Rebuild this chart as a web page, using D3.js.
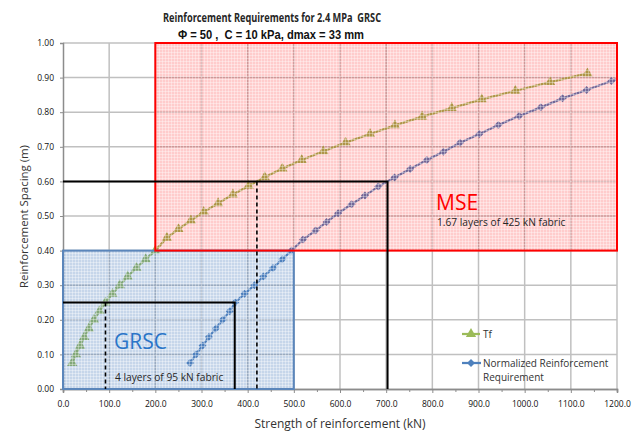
<!DOCTYPE html>
<html>
<head>
<meta charset="utf-8">
<script src="https://cdn.jsdelivr.net/npm/d3@7"></script>
<style>
  body { margin: 0; background: #fff; }
  text { font-family: "Liberation Sans Narrow", "Open Sans", sans-serif; white-space: pre; }
</style>
</head>
<body>
<div id="chart"></div>
<script>
// Tf series (kN vs spacing m)
var tfKN = [20, 28, 37, 46, 56, 67, 79, 92, 107, 123, 140, 159, 179, 200,
  225, 250, 277, 305, 336, 368, 402, 437, 475, 517, 564, 612, 665, 719, 778, 842, 907, 980, 1055, 1136];
var tfSpacing = [0.075, 0.1, 0.125, 0.15, 0.175, 0.2, 0.225, 0.25, 0.275, 0.3, 0.325, 0.35, 0.375, 0.4,
  0.437, 0.462, 0.487, 0.512, 0.537, 0.562, 0.587, 0.612, 0.637, 0.662, 0.687, 0.712, 0.737, 0.762, 0.787, 0.812, 0.837, 0.862, 0.887, 0.912];

// Normalized Reinforcement Requirement
var nrrKN = [275, 288, 302, 316, 331, 346, 361, 373, 393, 415, 434, 455, 475, 495,
  520, 547, 571, 596, 625, 654, 683, 718, 752, 788, 824, 860, 902, 943, 988, 1035, 1082, 1134, 1188, 1240];
var nrrSpacing = [0.075, 0.1, 0.125, 0.15, 0.175, 0.2, 0.225, 0.25, 0.275, 0.3, 0.325, 0.35, 0.375, 0.4,
  0.432, 0.458, 0.483, 0.508, 0.534, 0.559, 0.585, 0.611, 0.636, 0.662, 0.686, 0.712, 0.737, 0.763, 0.789, 0.814, 0.84, 0.864, 0.89, 0.915];

// zones: [kN from, kN to, spacing from, spacing to]
var mseZone = [200, 1200, 0.4, 1.0];
var grscZone = [0, 500, 0, 0.4];

// guide lines
var mseSolid = [[0, 0.6], [703, 0.6], [703, 0]];
var mseDashed = [[420, 0.6], [420, 0]];
var grscSolid = [[0, 0.25], [372, 0.25], [372, 0]];
var grscDashed = [[92, 0.25], [92, 0]];

var W = 635, H = 431;
var margin = { top: 43, right: 18, bottom: 42, left: 63 };
var iw = W - margin.left - margin.right, ih = H - margin.top - margin.bottom;

var svg = d3.select("#chart").append("svg").attr("width", W).attr("height", H);

var defs = svg.append("defs");
defs.append("clipPath").attr("id", "plotclip")
  .append("rect").attr("width", iw).attr("height", ih);
var pat = defs.append("pattern").attr("id", "fine")
  .attr("width", 3).attr("height", 3).attr("patternUnits", "userSpaceOnUse");
pat.append("path").attr("d", "M0 0.5H3M0.5 0V3")
  .attr("stroke", "#ffffff").attr("stroke-opacity", 0.35).attr("stroke-width", 1);

var g = svg.append("g").attr("transform", "translate(" + margin.left + "," + margin.top + ")");

var x = d3.scaleLinear().domain([0, 1200]).range([0, iw]);
var y = d3.scaleLinear().domain([0, 1]).range([ih, 0]);

// gridlines
g.append("g").selectAll("line").data(d3.range(100, 1201, 100)).enter().append("line")
  .attr("x1", function (d) { return x(d); }).attr("x2", function (d) { return x(d); })
  .attr("y1", 0).attr("y2", ih)
  .attr("stroke", "#c0c0c0").attr("stroke-width", 1.5);
g.append("g").selectAll("line").data(d3.range(1, 11).map(function (d) { return d / 10; })).enter().append("line")
  .attr("x1", 0).attr("x2", iw)
  .attr("y1", function (d) { return y(d); }).attr("y2", function (d) { return y(d); })
  .attr("stroke", "#c0c0c0").attr("stroke-width", 1.5);

// axes
g.append("g").attr("transform", "translate(0," + ih + ")")
  .call(d3.axisBottom(x).tickValues(d3.range(0, 1201, 100)).tickFormat(d3.format(".1f")).tickSize(4).tickPadding(8));
g.append("g").attr("transform", "translate(0," + ih + ")")
  .call(d3.axisBottom(x).tickValues(d3.range(50, 1200, 100)).tickFormat("").tickSize(3));
g.append("g")
  .call(d3.axisLeft(y).ticks(10).tickFormat(d3.format(".2f")).tickSize(3).tickPadding(6));
g.selectAll(".domain").attr("stroke", "#8c8c8c").attr("stroke-width", 1.5);
g.selectAll(".tick line").attr("stroke", "#8c8c8c");
g.selectAll(".tick text").attr("font-size", 8.5).attr("fill", "#111")
  .style("font-family", "'Liberation Sans Narrow', 'Open Sans', sans-serif");

// series
var plot = g.append("g").attr("clip-path", "url(#plotclip)");
var line = d3.line().x(function (d) { return x(d[0]); }).y(function (d) { return y(d[1]); });
var tfPts = tfKN.map(function (k, i) { return [k, tfSpacing[i]]; });
var nrrPts = nrrKN.map(function (k, i) { return [k, nrrSpacing[i]]; });

plot.append("path").datum(tfPts).attr("d", line)
  .attr("fill", "none").attr("stroke", "#9bbb59").attr("stroke-width", 2.25);
plot.selectAll(".tri").data(tfPts).enter().append("path")
  .attr("transform", function (d) { return "translate(" + x(d[0]) + "," + y(d[1]) + ")"; })
  .attr("d", d3.symbol().type(d3.symbolTriangle).size(46))
  .attr("fill", "#9bbb59");

plot.append("path").datum(nrrPts).attr("d", line)
  .attr("fill", "none").attr("stroke", "#4f81bd").attr("stroke-width", 2.25);
plot.selectAll(".dia").data(nrrPts).enter().append("path")
  .attr("transform", function (d) { return "translate(" + x(d[0]) + "," + y(d[1]) + ") rotate(45)"; })
  .attr("d", d3.symbol().type(d3.symbolSquare).size(32))
  .attr("fill", "#4f81bd");

// zones
function zone(z, fill, op) {
  var r = {
    x: x(z[0]), y: y(z[3]),
    w: x(z[1]) - x(z[0]), h: y(z[2]) - y(z[3])
  };
  g.append("rect").attr("x", r.x).attr("y", r.y).attr("width", r.w).attr("height", r.h)
    .attr("fill", fill).attr("fill-opacity", op);
  g.append("rect").attr("x", r.x).attr("y", r.y).attr("width", r.w).attr("height", r.h)
    .attr("fill", "url(#fine)");
  return r;
}
var gr = zone(grscZone, "#4f81bd", 0.32);
var ms = zone(mseZone, "#ff0000", 0.2);
g.append("rect").attr("x", gr.x).attr("y", gr.y).attr("width", gr.w).attr("height", gr.h)
  .attr("fill", "none").attr("stroke", "#5b86bb").attr("stroke-width", 2);
g.append("rect").attr("x", ms.x).attr("y", ms.y).attr("width", ms.w).attr("height", ms.h)
  .attr("fill", "none").attr("stroke", "#ff0000").attr("stroke-width", 2);

// guide lines
var guide = d3.line().x(function (d) { return x(d[0]); }).y(function (d) { return y(d[1]); });
[mseSolid, grscSolid].forEach(function (p) {
  g.append("path").attr("d", guide(p)).attr("fill", "none").attr("stroke", "#000").attr("stroke-width", 2);
});
[mseDashed, grscDashed].forEach(function (p) {
  g.append("path").attr("d", guide(p)).attr("fill", "none").attr("stroke", "#000")
    .attr("stroke-width", 1.6).attr("stroke-dasharray", "4,3");
});

// annotations
svg.append("text").attr("x", 436).attr("y", 210).attr("font-size", 21).attr("fill", "#ff0000")
  .style("font-family", "'Open Sans', sans-serif").text("MSE");
svg.append("text").attr("x", 437).attr("y", 226).attr("font-size", 10.2).attr("fill", "#262626").text("1.67 layers of 425 kN fabric");
svg.append("text").attr("x", 114).attr("y", 349).attr("font-size", 21).attr("fill", "#2a75c8")
  .style("font-family", "'Open Sans', sans-serif").text("GRSC");
svg.append("text").attr("x", 115).attr("y", 381).attr("font-size", 10.2).attr("fill", "#262626").text("4 layers of 95 kN fabric");

// legend
var lg = svg.append("g");
lg.append("line").attr("x1", 462).attr("x2", 480).attr("y1", 334).attr("y2", 334)
  .attr("stroke", "#9bbb59").attr("stroke-width", 2.25);
lg.append("path").attr("transform", "translate(471,334)")
  .attr("d", d3.symbol().type(d3.symbolTriangle).size(46)).attr("fill", "#9bbb59");
lg.append("text").attr("x", 483).attr("y", 337.5).attr("font-size", 10).attr("fill", "#333").text("Tf");
lg.append("line").attr("x1", 462).attr("x2", 481).attr("y1", 363).attr("y2", 363)
  .attr("stroke", "#4f81bd").attr("stroke-width", 2.25);
lg.append("path").attr("transform", "translate(471,363) rotate(45)")
  .attr("d", d3.symbol().type(d3.symbolSquare).size(32)).attr("fill", "#4f81bd");
lg.append("text").attr("x", 483).attr("y", 366.5).attr("font-size", 10).attr("fill", "#333").text("Normalized Reinforcement");
lg.append("text").attr("x", 483).attr("y", 381).attr("font-size", 10).attr("fill", "#333").text("Requirement");

// titles
svg.append("text").attr("x", 163).attr("y", 22)
  .attr("font-size", 12.5).attr("font-weight", "bold").attr("fill", "#262626")
  .attr("textLength", 218).attr("lengthAdjust", "spacingAndGlyphs")
  .text("Reinforcement Requirements for 2.4 MPa  GRSC");
svg.append("text").attr("x", 178).attr("y", 39)
  .attr("font-size", 13).attr("font-weight", "bold").attr("fill", "#111")
  .attr("textLength", 186).attr("lengthAdjust", "spacingAndGlyphs")
  .style("font-family", "'Liberation Sans', Arial, sans-serif")
  .text("\u03A6 = 50 ,  C = 10 kPa, dmax = 33 mm");
svg.append("text").attr("x", 340).attr("y", 428).attr("text-anchor", "middle")
  .attr("font-size", 12).attr("fill", "#333")
  .style("font-family", "'Open Sans', sans-serif")
  .text("Strength of reinforcement (kN)");
svg.append("text").attr("transform", "translate(28,288) rotate(-90)")
  .attr("font-size", 11).attr("fill", "#333")
  .attr("textLength", 143).attr("lengthAdjust", "spacingAndGlyphs")
  .style("font-family", "'Open Sans', sans-serif")
  .text("Reinforcement Spacing (m)");
</script>
</body>
</html>
